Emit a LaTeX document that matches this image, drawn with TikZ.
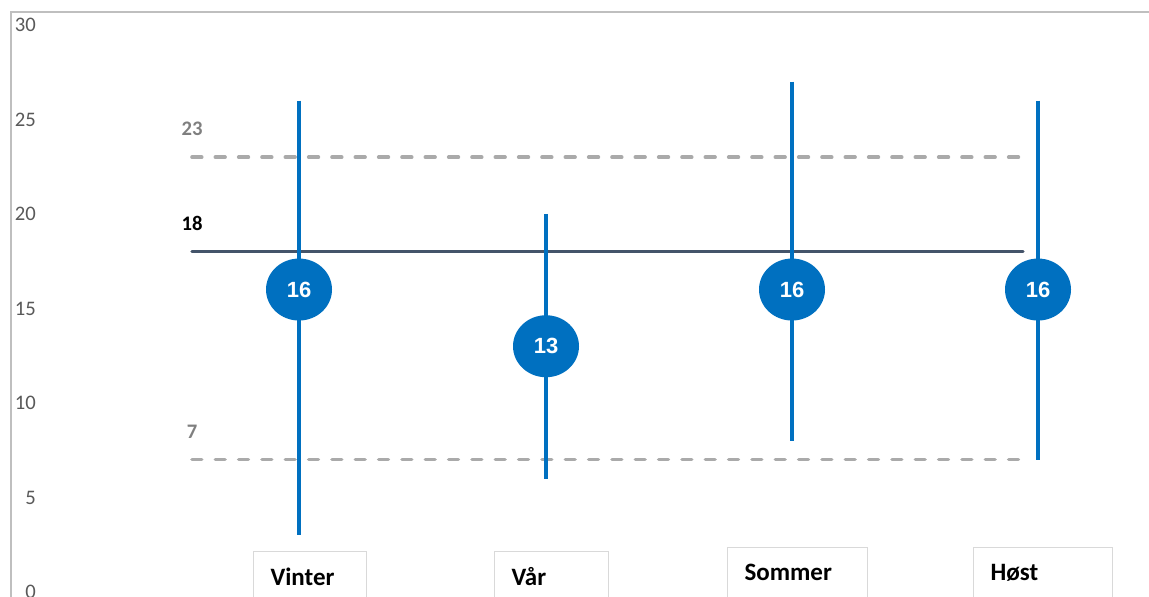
\documentclass[tikz,border=0pt]{standalone}
\usepackage{fontspec}
\setmainfont{Carlito}
\newfontfamily\tallfont{Liberation Sans}
\usetikzlibrary{shapes.geometric}

\definecolor{blaa}{RGB}{0,112,192}
\definecolor{skifer}{RGB}{68,84,106}
\definecolor{stiplegraa}{RGB}{170,170,170}
\definecolor{aksegraa}{RGB}{191,191,191}
\definecolor{tallgraa}{RGB}{89,89,89}
\definecolor{verdigraa}{RGB}{127,127,127}
\definecolor{boksgraa}{RGB}{217,217,217}

\begin{document}
\begin{tikzpicture}[x=0.75pt, y=14.175pt,
  akse/.style={draw=aksegraa, line width=1.5pt},
  aksetall/.style={anchor=east, inner sep=0pt, text=tallgraa, font=\fontsize{15.5}{17}\selectfont},
  grense/.style={draw=stiplegraa, line width=2.7pt, line cap=round, dash pattern=on 7.3pt off 10.2pt},
  referanse/.style={draw=skifer, line width=2.4pt, line cap=round},
  grenseverdi/.style={inner sep=0pt, font=\bfseries\fontsize{15.5}{17}\selectfont},
  stolpe/.style={draw=blaa, line width=2.5pt},
  snitt/.style={ellipse, fill=blaa, inner sep=0pt, minimum width=49.5pt, minimum height=46.5pt, text=white, font=\tallfont\bfseries\fontsize{16.5}{18}\selectfont},
  sesong/.style={draw=boksgraa, line width=0.8pt, anchor=north west, inner xsep=12.75pt, minimum height=37.5pt, align=left, font=\bfseries\fontsize{18.75}{20}\selectfont}]

\useasboundingbox (0,-0.265) rectangle (1149,31.32);

% Akser
\coordinate (origo) at (11,-1);
\coordinate (hjorne) at (11,30.68);
\coordinate (hoyre) at (1152,30.68);
\draw[akse] (origo) -- (hjorne) -- (hoyre);
\foreach \v in {0,5,...,30}
	\node[aksetall] (y\v) at (36,\v) {\v};

% Grenser
\coordinate (ovre-v) at (192,23);
\coordinate (ovre-h) at (1022,23);
\draw[grense] (ovre-v) -- (ovre-h);
\node[grenseverdi, text=verdigraa] (ovre-tall) at (192,24.48) {23};

\coordinate (nedre-v) at (192,7);
\coordinate (nedre-h) at (1022,7);
\draw[grense] (nedre-v) -- (nedre-h);
\node[grenseverdi, text=verdigraa] (nedre-tall) at (192,8.48) {7};

% Referanse
\coordinate (ref-v) at (192,18);
\coordinate (ref-h) at (1023,18);
\draw[referanse] (ref-v) -- (ref-h);
\node[grenseverdi] (ref-tall) at (192,19.48) {18};

% Sesonger
\foreach \n/\x/\lo/\hi/\m in {vinter/299/3/26/16, vaar/546/6/20/13, sommer/792/8/27/16, host/1038/7/26/16} {
	\coordinate (\n-topp) at (\x,\hi);
	\coordinate (\n-bunn) at (\x,\lo);
	\draw[stolpe] (\n-topp) -- (\n-bunn);
	\node[snitt] (\n-snitt) at (\x,\m) {\m};
}

% Etiketter
\foreach \n/\v/\t/\b/\tekst in {vinter/253/2.17/113/Vinter, vaar/494/2.17/114/Vår, sommer/727/2.38/140/Sommer, host/973/2.38/139/Høst} {
	\pgfmathsetmacro\bredde{\b*0.75-25.5}
	\node[sesong, text width=\bredde pt] (\n-boks) at (\v,\t) {\tekst};
}

\end{tikzpicture}
\end{document}
